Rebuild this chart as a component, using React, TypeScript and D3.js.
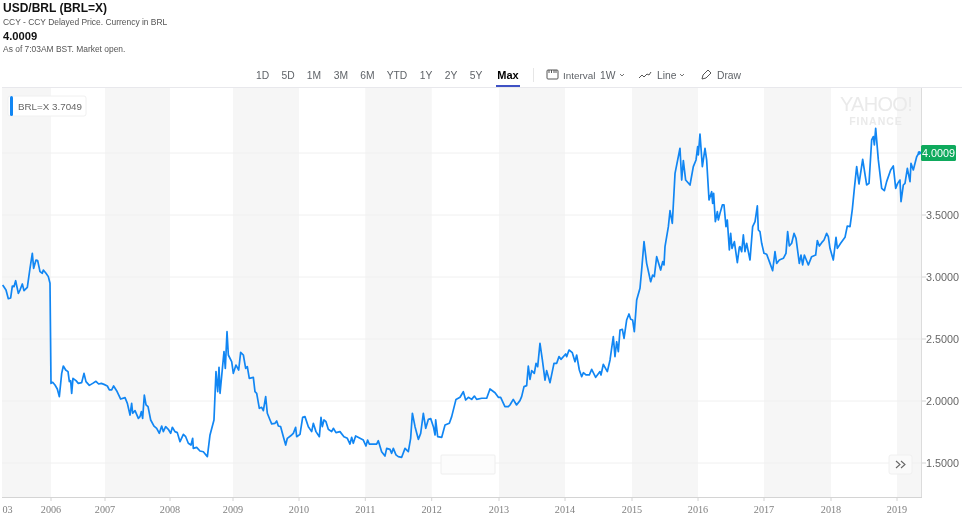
import React from "react";
import * as d3 from "d3";

const years = [
2003.07,2003.273,2003.414,2003.555,2003.656,2003.757,2003.858,2004.02,2004.121,2004.262,2004.363,2004.565,2004.727,2004.868,2004.949,2005.09,2005.192,2005.333,2005.474,2005.535,2005.697,2005.838,2005.939,
2006.0,2006.031,2006.074,2006.117,2006.154,2006.198,2006.228,2006.272,2006.315,2006.34,2006.364,2006.383,2006.407,2006.463,2006.506,2006.568,2006.611,2006.648,2006.71,2006.772,2006.833,2006.883,2006.932,2006.981,
2007.036,2007.067,2007.103,2007.133,2007.179,2007.241,2007.308,2007.344,2007.385,2007.41,2007.426,2007.462,2007.513,2007.538,2007.559,2007.579,2007.605,2007.631,2007.662,2007.703,2007.754,2007.795,2007.836,2007.872,2007.897,2007.933,2007.974,
2008.011,2008.037,2008.079,2008.116,2008.159,2008.212,2008.249,2008.291,2008.333,2008.36,2008.37,2008.423,2008.476,2008.529,2008.593,2008.635,2008.698,2008.73,2008.757,2008.778,2008.794,2008.857,2008.878,2008.905,2008.926,2008.979,
2009.005,2009.045,2009.086,2009.116,2009.157,2009.192,2009.217,2009.247,2009.308,2009.333,2009.359,2009.399,2009.434,2009.46,2009.495,2009.52,2009.561,2009.586,2009.636,2009.662,2009.687,2009.722,2009.763,2009.798,2009.823,2009.889,2009.914,2009.949,2009.965,
2010.015,2010.055,2010.09,2010.141,2010.191,2010.216,2010.256,2010.307,2010.332,2010.352,2010.377,2010.407,2010.442,2010.492,2010.518,2010.558,2010.618,2010.678,2010.729,2010.769,2010.794,2010.819,2010.854,2010.92,2010.97,
2011.01,2011.035,2011.06,2011.121,2011.171,2011.196,2011.246,2011.296,2011.322,2011.372,2011.397,2011.422,2011.462,2011.497,2011.548,2011.598,2011.648,2011.683,2011.709,2011.749,2011.799,2011.834,2011.874,2011.91,2011.95,2011.985,
2012.025,2012.05,2012.059,2012.089,2012.149,2012.198,2012.262,2012.297,2012.361,2012.421,2012.47,2012.505,2012.545,2012.594,2012.634,2012.668,2012.743,2012.817,2012.866,2012.941,2012.99,
2013.025,2013.09,2013.141,2013.166,2013.216,2013.266,2013.317,2013.343,2013.379,2013.419,2013.444,2013.47,2013.495,2013.535,2013.561,2013.586,2013.621,2013.657,2013.697,2013.722,2013.773,2013.833,2013.874,2013.909,2013.939,
2014.01,2014.025,2014.06,2014.109,2014.149,2014.174,2014.214,2014.249,2014.274,2014.313,2014.363,2014.398,2014.458,2014.522,2014.537,2014.572,2014.632,2014.672,2014.721,2014.746,2014.771,2014.796,2014.821,2014.856,2014.881,2014.92,2014.955,2014.98,
2015.01,2015.035,2015.071,2015.121,2015.146,2015.182,2015.222,2015.283,2015.313,2015.338,2015.374,2015.434,2015.465,2015.485,2015.5,2015.551,2015.576,2015.611,2015.652,2015.727,2015.753,2015.778,2015.813,2015.879,2015.929,2015.97,2015.995,
2016.005,2016.03,2016.066,2016.106,2016.131,2016.167,2016.207,2016.222,2016.237,2016.263,2016.293,2016.308,2016.333,2016.369,2016.394,2016.424,2016.444,2016.475,2016.495,2016.515,2016.551,2016.596,2016.626,2016.636,2016.662,2016.687,2016.712,2016.737,2016.788,2016.828,2016.864,2016.899,2016.914,2016.939,2016.965,
2017.0,2017.04,2017.09,2017.129,2017.164,2017.189,2017.229,2017.289,2017.328,2017.353,2017.378,2017.413,2017.448,2017.478,2017.527,2017.552,2017.577,2017.602,2017.662,2017.711,2017.771,2017.796,2017.826,2017.861,2017.896,2017.935,2017.96,2017.985,
2018.035,2018.076,2018.096,2018.146,2018.212,2018.247,2018.288,2018.323,2018.354,2018.389,2018.424,2018.48,2018.54,2018.576,2018.616,2018.641,2018.657,2018.677,2018.717,2018.768,2018.808,2018.843,2018.904,2018.944,2018.98,
2019.01,2019.045,2019.061,2019.096,2019.121,2019.157,2019.197,2019.212,2019.247,2019.298,2019.338,
];

const prices = [
2.935,2.895,2.825,2.831,2.927,2.922,2.97,2.868,2.895,2.944,2.89,2.917,3.07,3.191,3.07,3.137,3.132,3.043,3.03,3.056,3.03,3.003,2.949,
2.142,2.151,2.129,2.097,2.035,2.223,2.282,2.25,2.237,2.156,2.164,2.062,2.183,2.164,2.142,2.148,2.223,2.156,2.126,2.142,2.159,2.137,2.142,2.134,
2.121,2.089,2.089,2.121,2.083,2.016,2.027,1.981,1.887,1.981,1.901,1.922,1.86,1.874,1.914,1.86,2.048,1.968,1.954,1.847,1.798,1.78,1.739,1.798,1.753,1.793,1.772,
1.739,1.788,1.753,1.745,1.672,1.731,1.712,1.659,1.645,1.699,1.618,1.626,1.597,1.591,1.551,1.726,1.847,2.237,2.075,2.272,2.062,2.398,2.263,2.559,2.371,2.317,
2.223,2.29,2.25,2.392,2.371,2.263,2.277,2.183,2.191,2.075,2.062,1.941,1.949,1.922,2.035,1.901,1.847,1.815,1.82,1.839,1.798,1.793,1.712,1.645,1.699,1.726,1.739,1.788,1.712,
1.731,1.868,1.874,1.793,1.753,1.82,1.753,1.712,1.868,1.793,1.847,1.833,1.772,1.753,1.78,1.745,1.753,1.712,1.699,1.653,1.707,1.659,1.718,1.699,1.685,
1.637,1.685,1.653,1.653,1.653,1.68,1.591,1.556,1.618,1.61,1.578,1.618,1.565,1.551,1.546,1.618,1.591,1.699,1.901,1.793,1.691,1.739,1.901,1.78,1.852,1.858,
1.793,1.726,1.847,1.712,1.707,1.806,1.82,1.874,2.013,2.03,2.075,2.008,2.03,2.013,2.04,2.013,2.022,2.022,2.097,2.067,2.03,
2.03,1.954,1.954,1.968,2.013,1.968,2.003,2.035,2.116,2.124,2.282,2.175,2.245,2.223,2.304,2.277,2.465,2.331,2.169,2.245,2.148,2.304,2.304,2.358,2.336,
2.379,2.358,2.411,2.39,2.317,2.371,2.25,2.196,2.228,2.21,2.21,2.255,2.191,2.237,2.21,2.296,2.237,2.331,2.519,2.358,2.478,2.398,2.573,2.578,2.505,2.653,2.702,2.659,
2.653,2.559,2.815,2.909,3.056,3.285,3.11,2.962,3.016,3.003,3.164,3.056,3.124,3.097,3.245,3.406,3.535,3.433,3.836,4.038,3.782,3.938,3.782,3.742,3.89,3.944,4.051,
3.984,4.153,3.89,4.038,3.944,3.621,3.688,3.594,3.675,3.446,3.527,3.46,3.513,3.581,3.581,3.406,3.46,3.218,3.352,3.231,3.285,3.116,3.239,3.245,3.204,3.339,3.204,3.272,3.137,3.406,3.446,3.573,3.379,3.366,3.272,
3.191,3.183,3.11,3.051,3.204,3.11,3.137,3.151,3.191,3.366,3.25,3.272,3.352,3.312,3.11,3.177,3.097,3.177,3.097,3.164,3.177,3.293,3.25,3.277,3.298,3.352,3.325,3.231,
3.137,3.32,3.231,3.272,3.32,3.411,3.406,3.546,3.715,3.89,3.75,3.949,3.742,3.755,4.105,4.132,4.065,4.199,3.944,3.715,3.696,3.769,3.863,3.895,3.715,
3.755,3.782,3.608,3.742,3.755,3.876,3.769,3.917,3.863,3.97,4.005,
];

const xTickYears = [2003, 2006, 2007, 2008, 2009, 2010, 2011, 2012, 2013, 2014, 2015, 2016, 2017, 2018, 2019];
const xTickLabels = ["03", "2006", "2007", "2008", "2009", "2010", "2011", "2012", "2013", "2014", "2015", "2016", "2017", "2018", "2019"];
const yTickValues = [1.5, 2, 2.5, 3, 3.5, 4];
const ranges = ["1D", "5D", "1M", "3M", "6M", "YTD", "1Y", "2Y", "5Y"];
const rangeCentres = [262.5, 288, 314, 341, 367.5, 397, 426, 451, 476];
const lastPrice = 4.0009;
const legendPrice = 3.7049;

const SANS = "'Liberation Sans', Arial, sans-serif";
const SERIF = "'Liberation Serif', serif";
const PLOT_L = 2, PLOT_R = 921, PLOT_T = 88, PLOT_B = 497;

const x = d3.scaleLinear()
  .domain(xTickYears)
  .range([1.5, 51, 105, 170, 233, 299, 365.3, 431.7, 499, 565, 632, 698, 764, 831, 897]);
const y = d3.scaleLinear().domain([1.5, 4]).range([463, 153]);

const pts = years.map((yr, i) => [yr, prices[i]] as [number, number]);
const line = d3.line<[number, number]>().x(d => x(d[0])).y(d => y(d[1]));

export default function App() {
  const bands = xTickYears.map((yr, i) => {
    const l = Math.max(PLOT_L, x(yr));
    const r = i + 1 < xTickYears.length ? x(xTickYears[i + 1]) : PLOT_R;
    return { l, r, grey: i % 2 === 0 };
  });
  const endX = x(years[years.length - 1]);
  const endY = y(lastPrice);
  const gray = "#5f6368";
  return (
    <svg width={962} height={520} style={{ position: "absolute", left: 0, top: 0, display: "block", background: "#fff", filter: "blur(0.3px)" }}>
      <style>{`body{margin:0}`}</style>
      <g fontFamily={SANS}>
        <text x={3} y={12} fontSize={12} fontWeight={700} fill="#111">USD/BRL (BRL=X)</text>
        <text x={3} y={25} fontSize={8.45} fill="#555">CCY - CCY Delayed Price. Currency in BRL</text>
        <text x={3} y={40} fontSize={11.2} fontWeight={700} fill="#111">4.0009</text>
        <text x={3} y={52} fontSize={8.45} fill="#555">As of 7:03AM BST. Market open.</text>

        {ranges.map((r, i) => (
          <text key={r} x={rangeCentres[i]} y={78.5} fontSize={10.3} fill={gray} textAnchor="middle">{r}</text>
        ))}
        <text x={508} y={78.5} fontSize={11} fontWeight={700} fill="#000" textAnchor="middle">Max</text>
        <rect x={496} y={85} width={24} height={2} fill="#3f51c4" />
        <line x1={533.5} x2={533.5} y1={68} y2={82} stroke="#e6e6e6" />
        <rect x={547} y={70} width={11} height={9} rx={1} fill="none" stroke="#555" strokeWidth={1} />
        <path d="M549 70v3M551.5 70v3M554 70v3M556 70v3" stroke="#555" strokeWidth={1} fill="none" />
        <text x={563} y={78.5} fontSize={9.9} fill={gray}>Interval</text>
        <text x={600} y={78.5} fontSize={10.3} fill={gray}>1W</text>
        <path d="M620 74l2 2 2-2" stroke="#555" fill="none" strokeWidth={0.8} />
        <path d="M639 78l3-3 2 2 3-3 2 1 2-3" stroke="#555" fill="none" strokeWidth={1} />
        <text x={657} y={78.5} fontSize={10.3} fill={gray}>Line</text>
        <path d="M680 74l2 2 2-2" stroke="#555" fill="none" strokeWidth={0.8} />
        <path d="M702 79l1-4 5-5 3 3-5 5z" stroke="#555" fill="none" strokeWidth={1} />
        <text x={717} y={78.5} fontSize={10.3} fill={gray}>Draw</text>
      </g>

      {bands.filter(b => b.grey).map((b, i) => (
        <rect key={i} x={b.l} y={PLOT_T} width={b.r - b.l} height={PLOT_B - PLOT_T} fill="#f6f6f6" />
      ))}
      <line x1={PLOT_L} x2={962} y1={PLOT_T - 0.5} y2={PLOT_T - 0.5} stroke="#e8e8ec" />
      {yTickValues.map(v => (
        <line key={v} x1={PLOT_L} x2={PLOT_R} y1={y(v)} y2={y(v)} stroke="#f0f0f0" />
      ))}
      <line x1={PLOT_R + 0.5} x2={PLOT_R + 0.5} y1={PLOT_T} y2={PLOT_B} stroke="#dcdcdc" />
      <line x1={PLOT_L} x2={PLOT_R + 1} y1={PLOT_B + 0.5} y2={PLOT_B + 0.5} stroke="#d4d4d4" />

      <g fontFamily={SERIF} fontSize={10.2} fill="#808080" textAnchor="middle">
        {xTickYears.map((yr, i) => (
          <g key={yr}>
            {i > 0 && <line x1={x(yr)} x2={x(yr)} y1={PLOT_B} y2={PLOT_B + 4} stroke="#d4d4d4" />}
            <text x={i > 0 ? x(yr) : x(yr) + 6} y={512.5}>{xTickLabels[i]}</text>
          </g>
        ))}
      </g>

      <g fontFamily={SANS} fontSize={10.8} fill="#666">
        {yTickValues.filter(v => v !== 4).map(v => (
          <g key={v}>
            <line x1={PLOT_R + 1} x2={PLOT_R + 5} y1={y(v)} y2={y(v)} stroke="#d4d4d4" />
            <text x={926} y={y(v) + 4}>{v.toFixed(4)}</text>
          </g>
        ))}
      </g>

      <g fontFamily={SANS} textAnchor="middle" fill="#eaeaea">
        <text x={876} y={111} fontSize={20} letterSpacing={-0.7}>YAHOO!</text>
        <text x={876} y={125} fontSize={10.5} fontWeight={700} letterSpacing={1}>FINANCE</text>
      </g>

      <path d={line(pts) ?? ""} fill="none" stroke="#1186f3" strokeWidth={1.7} strokeLinejoin="round" />
      <circle cx={endX} cy={endY} r={1.8} fill="#1186f3" />

      <rect x={921} y={145} width={35} height={16} rx={1.5} fill="#0faa5d" />
      <text x={938.5} y={157} fontFamily={SANS} fontSize={10.8} fill="#fff" textAnchor="middle">{lastPrice.toFixed(4)}</text>

      <rect x={8} y={96} width={78} height={20} rx={2} fill="#fff" stroke="#f0f0f0" />
      <rect x={10} y={96} width={3} height={20} rx={1.5} fill="#1186f3" />
      <text x={18} y={109.5} fontFamily={SANS} fontSize={9.8} fill="#666">BRL=X  {legendPrice.toFixed(4)}</text>

      <rect x={441} y={455} width={54} height={19} rx={1} fill="#fcfcfc" stroke="#eee" />
      <rect x={889} y={455} width={23} height={19} rx={2} fill="#fafafa" stroke="#f0f0f0" />
      <path d="M896 461l4 3.5-4 3.5M901 461l4 3.5-4 3.5" fill="none" stroke="#666" strokeWidth={1.1} />
    </svg>
  );
}
